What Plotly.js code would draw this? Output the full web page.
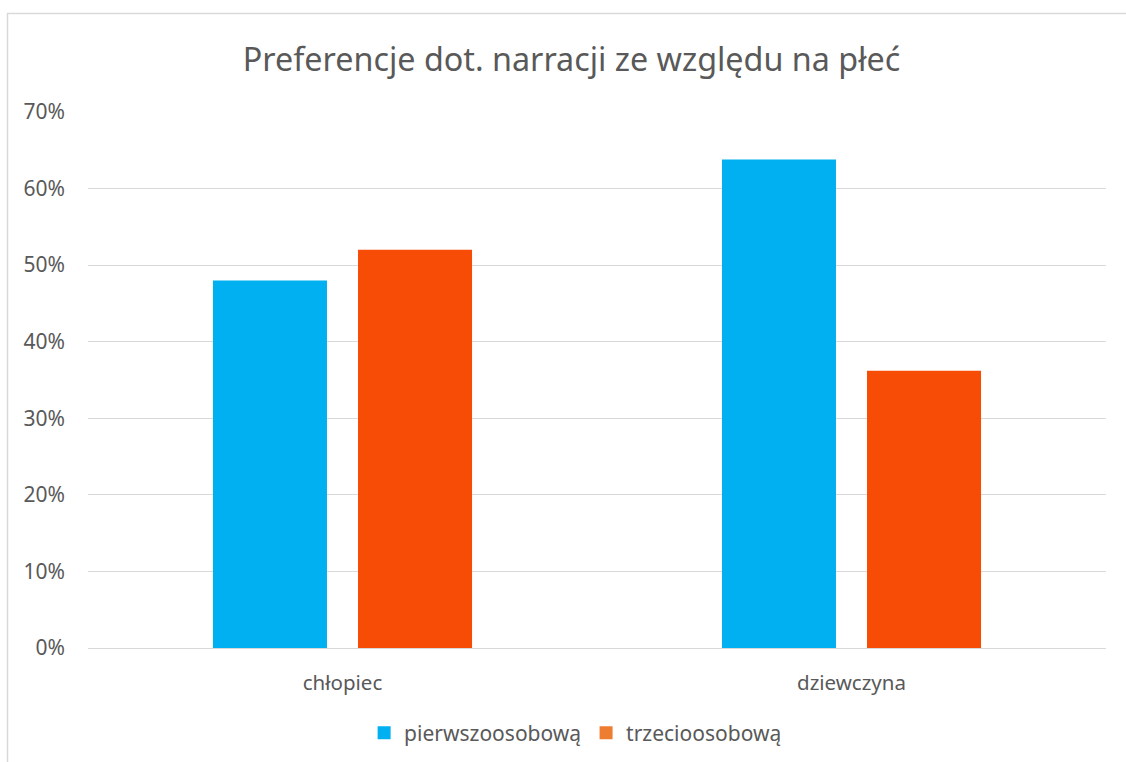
<!DOCTYPE html>
<html>
<head>
<meta charset="utf-8">
<script src="https://cdn.plot.ly/plotly-3.0.1.min.js"></script>
<style>html,body{margin:0;padding:0;background:#fff;}#chart{width:1126px;height:762px;}</style>
</head>
<body>
<div id="chart"></div>
<script>
const categories = ["chłopiec", "dziewczyna"];
const seriesNames = ["pierwszoosobową", "trzecioosobową"];
const pierwszoosobowa = [0.48, 0.638];
const trzecioosobowa = [0.52, 0.362];
const yTickVals = [0, 0.1, 0.2, 0.3, 0.4, 0.5, 0.6, 0.7];
const yTickText = ["0%", "10%", "20%", "30%", "40%", "50%", "60%", "70%"];

const barColors = ["#00B0F0", "#F74C06"];
const legendColors = ["#00B0F0", "#ED7D31"];
const font = "'Noto Sans', 'Open Sans', sans-serif";
const gray = "#595959";

const data = [
  {type: "bar", x: categories, y: pierwszoosobowa, name: seriesNames[0], marker: {color: barColors[0]}, showlegend: false, hoverinfo: "skip"},
  {type: "bar", x: categories, y: trzecioosobowa, name: seriesNames[1], marker: {color: barColors[1]}, showlegend: false, hoverinfo: "skip"},
  {type: "scatter", mode: "markers", x: [null], y: [null], name: seriesNames[0], marker: {symbol: "square", size: 13, color: legendColors[0]}},
  {type: "scatter", mode: "markers", x: [null], y: [null], name: seriesNames[1], marker: {symbol: "square", size: 13, color: legendColors[1]}}
];

const layout = {
  width: 1126, height: 762,
  margin: {l: 88, r: 20, t: 112, b: 114, autoexpand: false},
  paper_bgcolor: "#fff", plot_bgcolor: "#fff",
  font: {family: font, color: gray},
  title: {text: "Preferencje dot. narracji ze względu na płeć", font: {family: font, size: 32.3, color: gray}, x: 571.5/1126, xanchor: "center", y: 1 - 60/762, yanchor: "middle"},
  barmode: "group", bargap: 0.43, bargroupgap: 0.214,
  xaxis: {type: "category", tickfont: {size: 20.5, color: gray}, showgrid: false, showline: false, ticks: "", ticklen: 0, ticklabelstandoff: 20, fixedrange: true},
  yaxis: {range: [0, 0.7], tickvals: yTickVals, ticktext: yTickText, tickfont: {size: 21, color: gray}, showgrid: true, gridcolor: "#D9D9D9", gridwidth: 1, zeroline: true, zerolinecolor: "#D9D9D9", zerolinewidth: 1, showline: false, ticks: "", ticklabelstandoff: 22, fixedrange: true},
  legend: {orientation: "h", x: 0.479, xanchor: "center", y: (648-733)/536, yanchor: "middle", font: {size: 21, color: gray}, itemwidth: 30, tracegroupgap: 0},
  shapes: [
    {type: "line", xref: "paper", yref: "paper", x0: (7-88)/1018, x1: (1130-88)/1018, y0: 1 + (112-13.5)/536, y1: 1 + (112-13.5)/536, line: {color: "#D9D9D9", width: 1.5}},
    {type: "line", xref: "paper", yref: "paper", x0: (7.5-88)/1018, x1: (7.5-88)/1018, y0: 1 + (112-13)/536, y1: -0.3, line: {color: "#D9D9D9", width: 1.5}}
  ]
};

Plotly.newPlot("chart", data, layout, {displayModeBar: false, staticPlot: true});
</script>
</body>
</html>
